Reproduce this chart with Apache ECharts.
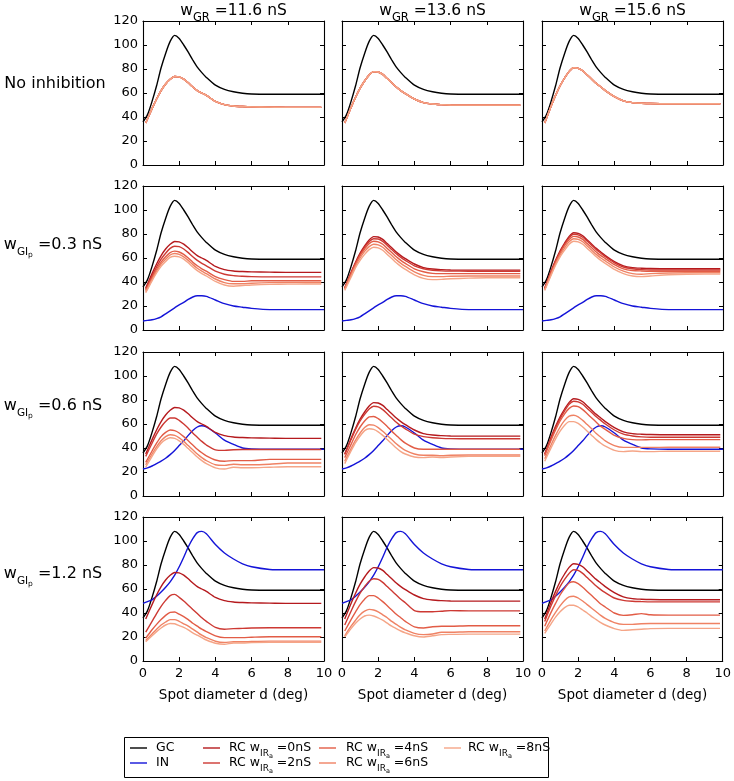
<!DOCTYPE html>
<html><head><meta charset="utf-8">
<script src="https://cdn.jsdelivr.net/npm/echarts@6/dist/echarts.min.js"></script>
<style>html,body{margin:0;padding:0;background:#fff}#c{width:734px;height:781px}</style>
</head><body><div id="c"></div>
<script>
// ---------- data ----------
const colTitles = ['11.6', '13.6', '15.6'];          // w_GR (nS)
const rowTitles = ['No inhibition', '0.3', '0.6', '1.2']; // w_GIp (nS)
const xTicks = [0, 2, 4, 6, 8, 10];
const yTicks = [0, 20, 40, 60, 80, 100, 120];
const legendNames = ['GC', 'IN', '0', '2', '4', '6', '8'];

const xGC = [0,0.25,0.5,0.75,1,1.25,1.5,1.75,2,2.25,2.5,2.75,3,3.25,3.5,4,4.5,5,5.5,6,7,8,9,10];
const GC  = [36,42,53,66,81,93,103,108,105.5,100,94,87.5,81.5,77,73,66.5,63,61,59.8,59.2,59,59,59,59];

const IN_03 = [7.5,8,8.5,9.5,11,13.5,16,18.5,21,23,25.5,27.5,28.5,28.5,28,25,22,20,19,18,17,17,17,17];
const IN_06 = [22.5,23.5,25,27,29,31.5,34.5,38,42,46,50.5,54.5,57.5,58.5,57.5,52.5,46.5,43,40,39.3,39,39,39,39];
const IN_12 = [48,49.5,51,54,57.5,61.5,66,71.5,78.5,86.5,95,102,107,108,106,97,90,85,81,78.5,76.3,76,76,76];

const xRC = [0.15,0.5,0.75,1,1.25,1.5,1.75,2,2.25,2.5,2.75,3,3.25,3.5,4,4.5,5,5.5,6,7,8,9,9.85];

// RC with w_IRa = 0 nS (also the no-inhibition response), per column
const RC0_c1 = [35,47,55,62,67.5,71.5,73.8,73.5,71.5,68.5,65,62,60,58,53,50.3,49.2,48.7,48.4,48.2,48,48,48];
const RC0_c2 = [35,48,56.5,64,70,75,77.8,77.5,75.5,72,68.5,65,62,59.5,55,52,50.8,50.3,50,49.9,49.9,49.9,49.9];
const RC0_c3 = [35,49,58,66,72.5,78,81,80.5,78.5,75,71.5,68,65,62,57,53.5,52,51.5,51.2,51,51,51,51];

// w_GIp = 0.3 nS
const RC2_g03_c1 = [34,45,52.5,59,64,68,69.8,69.5,67.5,64.5,61,58,55.5,53.5,49,46.5,45.3,44.8,44.5,44.3,44.3,44.3,44.3];
const RC4_g03_c1 = [33,43.5,50.5,56.5,61,64.5,65.7,65,63,60,56.5,53.5,51,49,44.5,42,40.5,40.5,41,41,41,41,41];
const RC6_g03_c1 = [32,42,49,55,59,62.5,63.7,63,61,58,54.5,51.5,49,47,42.5,39.5,38.5,38.5,39,39.5,39.6,39.6,39.6];
const RC8_g03_c1 = [31,41,47.5,53,57,60.5,61.5,61,59,56,52.5,49.5,47,45,40.5,37.5,36.5,37,37.5,38,38.2,38.3,38.3];
const RC2_g03_c2 = [35,47.5,56,63,69,73.5,76,75.8,73.8,70.5,67,63.5,60.5,58,53.5,51,49.8,49.3,49.1,49,49,49,49];
const RC4_g03_c2 = [34.5,46.5,55,62,67.5,72,74,73.5,71.5,68,64.5,61,58,55.5,51,48.5,47.2,47,47,47,47,47,47];
const RC6_g03_c2 = [34,45.5,53.5,60,65.5,69.5,71.5,71,69,65.5,62,58.5,55.5,53,48.5,45.5,44.5,44.5,44.8,45,45,45,45];
const RC8_g03_c2 = [33,44,52,58,63,67,69,68.5,66.5,63,59.5,56,53,50.5,46,43,42,42.2,42.7,43.2,43.5,43.5,43.5];
const RC2_g03_c3 = [34.5,48.5,57.5,65,71.5,77,79.8,79.3,77.3,74,70.5,67,64,61,56,52.5,51,50.3,50,50,50,50,50];
const RC4_g03_c3 = [34,47.5,56.5,64,70.5,75.5,78,77.5,75.5,72,68.5,65,62,59.5,54.5,51,49.6,49.2,49,49,49,49,49];
const RC6_g03_c3 = [33.5,46.5,55,62.5,68.5,73.5,76,75.5,73.5,70,66.5,63,60,57.5,52.5,49,47,46.5,47,47.5,47.7,47.7,47.7];
const RC8_g03_c3 = [33,45.5,54,61,66.5,71.5,74,73.5,71.5,68,64.5,61,58,55.5,50.5,47,45,44.5,45,46,46.5,46.6,46.6];

// w_GIp = 0.6 nS
const RC2_g06_c1 = [33,44,51.5,57.5,62,65,65,63,60,56.5,52.5,49,45.5,42.5,38.5,38,38.5,38.7,38.7,38.7,38.7,38.7,38.7];
const RC4_g06_c1 = [28,37.5,44,49.5,53,55,54.5,52.5,49.5,46,42.5,39,36,33.5,30,29,29.5,29.5,29.5,30.5,30.5,30.5,30.5];
const RC6_g06_c1 = [26,35,41,46,49.5,51,50.5,48.5,45.5,42,38.5,35,32,29.5,26,25.5,26.5,26,26,26.5,27.5,27.5,27.5];
const RC8_g06_c1 = [24,33,39,44,47,48.5,48,46,43,39.5,36,32.5,29.5,27,23.5,22.5,24,23.5,23.5,24,24.4,24.4,24.4];
const RC2_g06_c2 = [34.5,47,55.5,62.5,68,72.5,74.8,74.3,72,68.5,65,61.5,58.5,56,51.5,49.5,48.5,48,47.8,47.7,47.7,47.7,47.7];
const RC4_g06_c2 = [32,43,51,57.5,62.5,66,66.3,64.5,61.5,58,54,50.5,47,44,40,39,39,39,39,39,39,39,39];
const RC6_g06_c2 = [29,39.5,46.5,52.5,57,59.4,59,57,54,50.5,47,43.5,40.5,38,35,34,34,33.5,34,34.2,34.2,34.2,34.2];
const RC8_g06_c2 = [27,37.5,44.5,50,54.5,56,55.5,53.5,50.5,47,43.5,40,37,35,32.5,32,32.5,32,32.5,33,33,33,33];
const RC2_g06_c3 = [34.5,48,57,64.5,71,76.5,79,78.5,76.5,73,69.5,66,63,60,55,51.5,50,49.3,49,49,49,49,49];
const RC4_g06_c3 = [33.5,46.5,55,62.5,68.5,73,75,74.5,72,68.5,65,61.5,58,55.5,50.5,48,47,46.8,47,47,47,47,47];
const RC6_g06_c3 = [31,42.5,50.5,57.5,63,66.5,67.3,66,63,59.5,56,52,49,46,42,40.5,40.5,40.5,40.5,40.6,40.6,40.6,40.6];
const RC8_g06_c3 = [29,40,47.5,54,59,62,62,60.5,57.5,54,50.5,47,44,41.5,38,37,37.5,37,37,37.3,37.3,37.3,37.3];

// w_GIp = 1.2 nS
const RC2_g12_c1 = [24,33,39.5,45.5,50.5,54.5,55.5,53,50,46.5,43,39.5,36,33,28,26.5,27,27.2,27.5,27.7,27.7,27.7,27.7];
const RC4_g12_c1 = [19,26,30.5,34.5,38,40.5,40.8,39,37,34.5,31.5,29,26.5,24.5,21,19.5,19.5,19.5,19.8,20.2,20.2,20.2,20.2];
const RC6_g12_c1 = [17,22.5,26.5,30,32.5,34.5,34.5,33,31,29,26.5,24,21.5,19.5,16.5,15.5,16,16,16.3,16.6,16.6,16.6,16.6];
const RC8_g12_c1 = [16,21,24.5,27.5,30,31.3,31,29.5,28,26,23.5,21.5,19.5,17.5,14.8,14,15,15,15.3,15.5,15.5,15.5,15.5];
const RC2_g12_c2 = [30,41.5,49.5,56.5,62,66.5,68.5,68,65.5,62,58.5,55,51.5,48.5,42,41,41,41.5,42,41.8,41.8,41.8,41.8];
const RC4_g12_c2 = [25,34.5,41,47,51.5,54.5,54.5,52.5,49.5,46,42.5,39,36,33,28.5,27.5,28.5,29,29,29.4,29.4,29.4,29.4];
const RC6_g12_c2 = [21,29,34,38.5,41.5,43,42.5,41,38.5,36,33,30.5,28,26,23,22,22.5,24,24,24.4,24.4,24.4,24.4];
const RC8_g12_c2 = [20,27,31.5,35,37.5,38.2,37.5,36,34,31.5,29,27,25,23.5,21,20,21,22,22.2,22.4,22.4,22.4,22.4];
const RC2_g12_c3 = [33,46,54.5,62,68,73,76,75.5,73,69.5,66,62.5,59.5,57,52.5,50.5,49.8,49.5,49.3,49.3,49.3,49.3,49.3];
const RC4_g12_c3 = [29,40.5,48,55,60.5,65,66,64.5,61.5,58,54.5,51,47.5,45,40,38,38.5,39.5,38.5,38.2,38.2,38.2,38.2];
const RC6_g12_c3 = [25,34.5,40.5,46,50.5,53.5,54,52.5,50,47,44,41,38,35.5,32,30.5,30.5,31,31.2,31.3,31.3,31.3,31.3];
const RC8_g12_c3 = [23,31,36.5,41,44.5,46.5,46.5,45,42.5,40,37,34.5,32,30,27,25.5,26,26.5,27,27.2,27.2,27.2,27.2];

// ---------- assembly ----------
const RC0 = [RC0_c1, RC0_c2, RC0_c3];
const RCrows = [
  null,
  [[RC2_g03_c1,RC4_g03_c1,RC6_g03_c1,RC8_g03_c1],[RC2_g03_c2,RC4_g03_c2,RC6_g03_c2,RC8_g03_c2],[RC2_g03_c3,RC4_g03_c3,RC6_g03_c3,RC8_g03_c3]],
  [[RC2_g06_c1,RC4_g06_c1,RC6_g06_c1,RC8_g06_c1],[RC2_g06_c2,RC4_g06_c2,RC6_g06_c2,RC8_g06_c2],[RC2_g06_c3,RC4_g06_c3,RC6_g06_c3,RC8_g06_c3]],
  [[RC2_g12_c1,RC4_g12_c1,RC6_g12_c1,RC8_g12_c1],[RC2_g12_c2,RC4_g12_c2,RC6_g12_c2,RC8_g12_c2],[RC2_g12_c3,RC4_g12_c3,RC6_g12_c3,RC8_g12_c3]]
];
const INrows = [null, IN_03, IN_06, IN_12];

const FONT = 'DejaVu Sans';
const cGC = '#000000', cIN = '#1414d8';
const cRC = ['#b51a1e', '#cd3933', '#e25c46', '#ef8264', '#f5a587'];

const colLeft = [143, 342, 542], panelW = 181;
const rowTop = [21, 186, 352, 517], panelH = 144;

const grids = [], xAxes = [], yAxes = [], series = [];
const pair = (xs, ys) => xs.map((x, i) => [x, ys[i]]);
function mkSeries(gi, xs, ys, color, name) {
  series.push({
    type: 'line', name, xAxisIndex: gi * 2, yAxisIndex: gi * 2,
    data: pair(xs, ys), symbol: 'none', smooth: 0.25, clip: true,
    lineStyle: { color, width: 1.4 }, itemStyle: { color },
    animation: false, silent: true
  });
}
for (let r = 0; r < 4; r++) {
  for (let c = 0; c < 3; c++) {
    const gi = r * 3 + c;
    grids.push({ left: colLeft[c], top: rowTop[r], width: panelW, height: panelH, show: false });
    const tick = { show: true, inside: true, length: 4, lineStyle: { color: '#000', width: 1 } };
    const line = { show: true, onZero: false, lineStyle: { color: '#000', width: 1.1 } };
    ['bottom', 'top'].forEach(pos => xAxes.push({
      gridIndex: gi, type: 'value', min: xTicks[0], max: xTicks[xTicks.length - 1], interval: 2,
      position: pos, axisLine: line, axisTick: tick, splitLine: { show: false },
      axisLabel: { show: pos === 'bottom' && r === 3, color: '#000', fontSize: 13, fontFamily: FONT, margin: 6 }
    }));
    ['left', 'right'].forEach(pos => yAxes.push({
      gridIndex: gi, type: 'value', min: yTicks[0], max: yTicks[yTicks.length - 1], interval: 20,
      position: pos, axisLine: line, axisTick: tick, splitLine: { show: false },
      axisLabel: { show: pos === 'left' && c === 0, color: '#000', fontSize: 13, fontFamily: FONT, margin: 5 }
    }));
    mkSeries(gi, xGC, GC, cGC, 'GC');
    if (INrows[r]) mkSeries(gi, xGC, INrows[r], cIN, 'IN');
    const rcs = r === 0 ? [RC0[c], RC0[c], RC0[c], RC0[c], RC0[c]] : [RC0[c]].concat(RCrows[r][c]);
    rcs.forEach((ys, k) => mkSeries(gi, xRC, ys, cRC[k], 'RC' + legendNames[k + 2]));
  }
}

// ---------- text & legend (graphic) ----------
const LH = 22;
function richText(x, y, text, base, sub, subsub, align) {
  return {
    type: 'text', x, y, silent: true,
    style: {
      text, align: align || 'center', verticalAlign: 'middle', fill: '#000',
      rich: {
        b: { fontSize: base, fontFamily: FONT, lineHeight: LH, fill: '#000', color: '#000' },
        s: { fontSize: sub, fontFamily: FONT, lineHeight: LH, height: LH - 2 * Math.round(base * 0.45), verticalAlign: 'bottom', fill: '#000', color: '#000' },
        ss: { fontSize: subsub, fontFamily: FONT, lineHeight: LH, height: LH - 2 * Math.round(base * 0.62), verticalAlign: 'bottom', fill: '#000', color: '#000' }
      }
    }
  };
}
const graphics = [];
const colCenters = colLeft.map(l => l + panelW / 2);
colTitles.forEach((t, c) => graphics.push(richText(colCenters[c], 11, '{b|w}{s|GR}{b| =' + t + ' nS}', 15.5, 11.5, 8)));
const rowLabelY = [84, 245, 406, 574];
rowTitles.forEach((t, r) => {
  if (r === 0) graphics.push(richText(55, rowLabelY[r], '{b|' + t + '}', 16, 11, 8));
  else graphics.push(richText(53, rowLabelY[r], '{b|w}{s|GI}{ss|p}{b| =' + t + ' nS}', 16, 10.5, 7.5));
});
colCenters.forEach(cx => graphics.push(richText(cx, 695, '{b|Spot diameter d (deg)}', 13.5, 9, 7)));

// legend
graphics.push({ type: 'rect', silent: true, shape: { x: 124.5, y: 737.5, width: 424, height: 40 },
  style: { fill: '#fff', stroke: '#000', lineWidth: 1 } });
const legRowY = [748, 763];
const legItems = [
  { col: 0, row: 0, color: cGC, label: '{b|GC}' },
  { col: 0, row: 1, color: cIN, label: '{b|IN}' },
  { col: 1, row: 0, color: cRC[0], label: '{b|RC w}{s|IR}{ss|a}{b| =' + legendNames[2] + 'nS}' },
  { col: 1, row: 1, color: cRC[1], label: '{b|RC w}{s|IR}{ss|a}{b| =' + legendNames[3] + 'nS}' },
  { col: 2, row: 0, color: cRC[2], label: '{b|RC w}{s|IR}{ss|a}{b| =' + legendNames[4] + 'nS}' },
  { col: 2, row: 1, color: cRC[3], label: '{b|RC w}{s|IR}{ss|a}{b| =' + legendNames[5] + 'nS}' },
  { col: 3, row: 0, color: cRC[4], label: '{b|RC w}{s|IR}{ss|a}{b| =' + legendNames[6] + 'nS}' }
];
const legHandleX = [130, 203, 319, 444], legTextX = [156, 229, 346, 468];
legItems.forEach(it => {
  const y = legRowY[it.row];
  graphics.push({ type: 'line', silent: true,
    shape: { x1: legHandleX[it.col], y1: y, x2: legHandleX[it.col] + 17, y2: y },
    style: { stroke: it.color, lineWidth: 1.4 } });
  graphics.push(richText(legTextX[it.col], y, it.label, 12.5, 9, 6.5, 'left'));
});

const chart = echarts.init(document.getElementById('c'), null, { renderer: 'canvas' });
chart.setOption({
  animation: false, backgroundColor: '#fff',
  grid: grids, xAxis: xAxes, yAxis: yAxes, series, graphic: graphics
});
</script></body></html>
